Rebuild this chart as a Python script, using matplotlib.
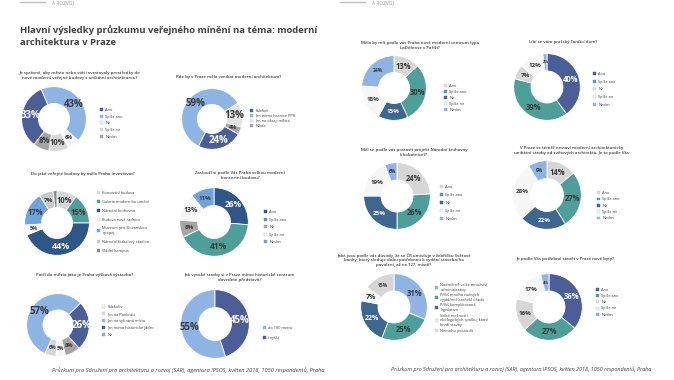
import numpy as np
import matplotlib.pyplot as plt
from matplotlib.patches import Patch

plt.rcParams['font.family'] = ['Open Sans', 'DejaVu Sans']

W, H = 674, 380

# colours
dblue = '#4b5e98'
navy = '#2f5688'
steel = '#3d6791'
lblue = '#8eb4e3'
mblue = '#6fa3dc'
teal = '#4e9f99'
white = '#f6f6f6'
lgray = '#d6d6d6'
gray = '#a5a5a5'
dgray = '#8a8a8a'
txt = '#3a3a3a'

yes_no = ["Ano", "Spíše ano", "Ne", "Spíše ne", "Nevím"]

# ---- data ----
q1 = "Je správné, aby město nebo stát investovaly prostředky do\nnové moderní veřejné budovy s unikátní architekturou?"
v1 = [33, 43, 6, 10, 8]

q2 = "Kde by v Praze měla vznikat moderní architektura?"
l2 = ["Kdekoli", "Jen mimo hranice PPR", "Jen na okraji města", "Nikde"]
v2 = [24, 59, 13, 4]

q3 = "Do jaké veřejné budovy by měla Praha investovat?"
l3 = ["Koncertní budova", "Galerie moderního umění", "Národní knihovna",
      "Budova nové radnice", "Muzeum pro Slovanskou\nepopej",
      "Národní fotbalový stadion", "Vládní kampus"]
v3 = [10, 15, 44, 5, 17, 7, 2]

q4 = "Zaslouží si podle Vás Praha velkou moderní\nkoncertní budovu?"
v4 = [26, 41, 8, 13, 11]

q5 = "Patří do města jako je Praha výšková výstavba?"
l5 = ["Kdekoliv", "Jen na Pankráci", "Jen na vybraná místa",
      "Jen mimo historické jádro", "Ne"]
v5 = [5, 6, 57, 26, 8]

q6 = "Jak vysoké stavby si v Praze mimo historické centrum\ndovedete představit?"
l6 = ["do 100 metrů", "i vyšší"]
v6 = [55, 45]

q7 = "Měla by mít podle vás Praha nové moderní centrum typu\nLaDéfense v Paříži?"
v7 = [13, 30, 15, 18, 24]

q8 = "Líbí se vám pražský Tančící dům?"
v8 = [40, 39, 7, 12, 2]

q9 = "Měl se podle vás postavit projekt Národní knihovny\n(chobotnice)?"
v9 = [24, 26, 25, 19, 6]

q10 = "V Praze se téměř nestaví moderní architektonicky\nunikátní stavby od světových architektů. Je to podle Vás:"
v10 = [14, 27, 22, 28, 9]

q11 = ("Jaké jsou podle vás důvody, že se ČR umisťuje v žebříčku Světové\n"
       "banky, který sleduje dobu potřebnou k vydání stavebního\n"
       "povolení, až na 127. místě?")
l11 = ["Nadměrně velké množství\nadministrativy",
       "Příliš mnoho nutných\nvyjádření (razítek) úřadů",
       "Příliš komplikovaná\nlegislativa",
       "Velké možnosti\nekologických spolků, které\nbrzdí stavby",
       "Nemohu posoudit"]
v11 = [31, 25, 22, 7, 15]

q12 = "Je podle Vás potřebné stavět v Praze nové byty?"
v12 = [36, 27, 16, 17, 4]

footer = "Průzkum pro Sdružení pro architekturu a rozvoj (SAR), agentura IPSOS, květen 2018, 1050 respondentů, Praha"

# layout: question, labels, values, colours, start angle, centre, radius,
# title pos, legend pos, legend step, label sizes (0 = no label)
charts = [
    (q1, yes_no, v1, [dblue, lblue, white, lgray, gray], -128, (54, 119), 33, (80, 71), (100, 110), 7.5, [7, 7, 4, 5.5, 5.5]),
    (q2, l2, v2, [dblue, lblue, '#e2e2e2', gray], -30, (212, 119), 31, (229, 75), (250, 111), 5.7, [7, 7, 7, 4]),
    (q3, l3, v3, ['#d3d6dc', teal, navy, white, mblue, '#c9c9c9', dgray], 90, (57, 223), 33, (83, 172), (97, 193), 9.7, [5.5, 5.5, 6.5, 4, 5.5, 4.5, 0]),
    (q4, yes_no, v4, [navy, teal, gray, white, mblue], 90, (214, 222), 35, (240, 171), (264, 212), 8.4, [6, 6, 4.5, 5, 4.5]),
    (q5, l5, v5, [white, lgray, lblue, dblue, gray], -76, (58, 325), 32, (85, 273), (102, 307), 7.8, [3.6, 3.8, 7, 7, 4.2]),
    (q6, l6, v6, [lblue, dblue], -72, (215, 324), 35, (240, 273), (263, 328), 11, [7, 7]),
    (q7, yes_no, v7, [lgray, teal, steel, white, lblue], 90, (394, 88), 33, (420, 41), (444, 86), 6.8, [5.5, 5.5, 4.5, 4.5, 3.5]),
    (q8, yes_no, v8, [dblue, teal, lgray, white, lblue], 90, (547, 87), 34, (563, 40), (593, 74), 8.5, [5.5, 5.5, 4.5, 4.5, 3]),
    (q9, yes_no, v9, [lgray, teal, steel, white, lblue], 90, (397, 196), 34, (414, 148), (440, 187), 8.8, [5.5, 5.5, 4.5, 4.5, 3.5]),
    (q10, yes_no, v10, [lgray, teal, steel, white, lblue], 90, (547, 195), 35, (572, 146), (597, 193), 7.2, [5.5, 5.5, 4.5, 4.5, 3.5]),
    (q11, l11, v11, [lblue, teal, steel, white, lgray], 90, (394, 307), 34, (404, 253), (435, 285), 6.5, [5.5, 5.5, 5, 5, 3.5]),
    (q12, yes_no, v12, [dblue, teal, lgray, white, lblue], 90, (549, 307), 34, (565, 257), (596, 290), 7, [5.5, 5.5, 4.5, 4.5, 3]),
]

dark = {dblue, navy, steel}

fig = plt.figure(figsize=(W / 100, H / 100), dpi=100)
fig.patch.set_facecolor('white')

for q, labs, vals, cols, start, (cx, cy), r, (tx, ty), (lx, ly), step, psz in charts:
    ax = fig.add_axes([(cx - r) / W, 1 - (cy + r) / H, 2 * r / W, 2 * r / H])
    wedges, _ = ax.pie(vals, colors=cols, startangle=start, counterclock=False,
                       radius=1, wedgeprops=dict(width=0.52, edgecolor='white', linewidth=0.6))
    for w, v, c, s in zip(wedges, vals, cols, psz):
        if not s:
            continue
        a = np.deg2rad((w.theta1 + w.theta2) / 2)
        ax.text(0.74 * np.cos(a), 0.74 * np.sin(a), f"{v}%", ha='center', va='center',
                fontsize=s, fontweight='bold', color='white' if c in dark else txt)
    ax.set_xlim(-1.02, 1.02)
    ax.set_ylim(-1.02, 1.02)
    ax.axis('off')

    fig.text(tx / W, 1 - ty / H, q, ha='center', va='top', fontsize=3.1,
             fontweight='semibold', color=txt, linespacing=1.3)

    handles = [Patch(facecolor=c, edgecolor='#bdbdbd' if c == white else c, linewidth=0.3) for c in cols]
    fs = 2.8
    ls = step / (fs * 100 / 72) - 1.25
    fig.legend(handles, labs, loc='upper left', bbox_to_anchor=(lx / W, 1 - (ly - 2) / H),
               frameon=False, fontsize=fs, handlelength=0.8, handleheight=0.8,
               handletextpad=0.6, labelspacing=max(ls, 0.2), borderpad=0, borderaxespad=0,
               labelcolor=txt)

# headers
for x0, x1, xt in [(20, 45, 52), (340, 365, 372)]:
    fig.add_artist(plt.Line2D([x0 / W, x1 / W], [1 - 2 / H, 1 - 2 / H], color='#c0c0c0', lw=1))
    fig.text(xt / W, 1 - 3 / H, "A ROZVOJ", fontsize=3.5, color='#9a9a9a', va='center')

fig.text(20 / W, 1 - 25 / H, "Hlavní výsledky průzkumu veřejného mínění na téma: moderní\narchitektura v Praze",
         fontsize=6.8, fontweight='bold', color='#404040', va='top', linespacing=1.45)

fig.text(52 / W, 1 - 370 / H, footer, fontsize=4.1, style='italic', color='#404040', va='center')
fig.text(391 / W, 1 - 369 / H, footer, fontsize=3.9, style='italic', color='#404040', va='center')

fig.savefig('out.png', dpi=100)
